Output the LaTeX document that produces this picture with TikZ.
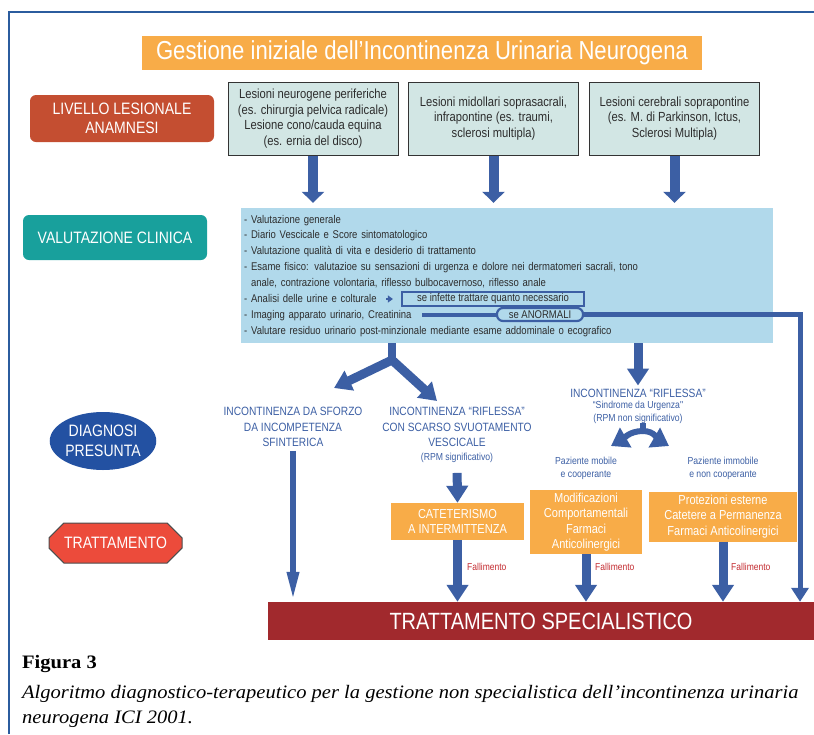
\documentclass[tikz,border=0pt]{standalone}
\usepackage{fontspec}
\setmainfont{Liberation Serif}[FakeStretch=1.08]
\newfontfamily\cnd[FakeStretch=0.85]{Liberation Sans}
\usetikzlibrary{arrows.meta,shapes.geometric,shapes.misc}

\definecolor{framebl}{HTML}{2B5C9E}
\definecolor{arrbl}{HTML}{3C5FA4}
\definecolor{titleor}{HTML}{F8AC48}
\definecolor{brick}{HTML}{C44E31}
\definecolor{valteal}{HTML}{18A09C}
\definecolor{boxgray}{HTML}{D2E6E4}
\definecolor{lightbl}{HTML}{B1D9EB}
\definecolor{diagbl}{HTML}{2351A2}
\definecolor{tratred}{HTML}{EC4B3B}
\definecolor{specred}{HTML}{A1292D}
\definecolor{failred}{HTML}{C32B30}
\definecolor{txtgray}{HTML}{2D2D2D}

\tikzset{
  level/.style   = {shape=rectangle, rounded corners=6pt, text=white, align=center,
                    inner sep=0pt, font=\cnd\fontsize{16.5}{19.5}\selectfont},
  lesion/.style  = {draw=black!80, line width=1pt, fill=boxgray, align=center,
                    text=txtgray, minimum width=170pt, minimum height=73pt,
                    inner sep=0pt, font=\cnd\fontsize{13.2}{15.5}\selectfont},
  diag/.style    = {text=arrbl, align=center, inner sep=0pt,
                    font=\cnd\fontsize{12}{15.3}\selectfont},
  note/.style    = {text=arrbl, align=center, inner sep=0pt,
                    font=\cnd\fontsize{10.2}{13}\selectfont},
  therapy/.style = {fill=titleor, text=white, align=center, inner sep=0pt,
                    font=\cnd\fontsize{13}{15.5}\selectfont},
  fail/.style    = {text=failred, anchor=west, inner sep=0pt,
                    font=\cnd\fontsize{10}{11}\selectfont},
  tag/.style     = {draw=arrbl, line width=2.2pt, fill=lightbl, text=txtgray,
                    inner sep=0pt, font=\cnd\fontsize{11.2}{13}\selectfont},
  bigarr/.style  = {draw=arrbl, line width=10pt, -{Triangle[width=22pt,length=11pt]}},
  midarr/.style  = {draw=arrbl, line width=9pt, -{Triangle[width=21pt,length=17pt]}},
  thinarr/.style = {draw=arrbl, line width=5pt, -{Triangle[width=17pt,length=14pt]}},
  slimarr/.style = {draw=arrbl, line width=6pt, -{Triangle[width=11pt,length=30pt]}},
  forkarr/.style = {draw=arrbl, line width=6pt, -{Triangle[width=22pt,length=17pt]}}
}

\begin{document}
\begin{tikzpicture}[x=1pt,y=-1pt]
\useasboundingbox (0,0) rectangle (814,734);

% cornice
\draw[framebl, line width=2.5pt] (9,734) |- (814,12);

% titolo
\node[fill=titleor, text=white, minimum width=560pt, minimum height=34pt, inner sep=0pt,
      font=\cnd\fontsize{26}{30}\selectfont] (title) at (422,53)
      {Gestione iniziale dell’Incontinenza Urinaria Neurogena};

% colonna sinistra
\node[level, fill=brick, minimum width=184pt, minimum height=47pt] (livello) at (122,118.5)
      {LIVELLO LESIONALE\\ANAMNESI};
\node[level, fill=valteal, minimum width=184pt, minimum height=45pt] (valclin) at (115,237.5)
      {VALUTAZIONE CLINICA};
\node[level, shape=ellipse, fill=diagbl, minimum width=106pt, minimum height=58pt] (diagnosi)
      at (103,441) {DIAGNOSI\\PRESUNTA};
\node[level, shape=chamfered rectangle, rounded corners=0pt, fill=tratred, draw=black!70,
      line width=1pt, chamfered rectangle xsep=9pt, chamfered rectangle ysep=9pt,
      minimum width=133pt, minimum height=40pt] (tratt) at (115.5,543) {TRATTAMENTO};

% lesioni
\node[lesion] (les1) at (313,118.5)
      {Lesioni neurogene periferiche\\(es. chirurgia pelvica radicale)\\
       Lesione cono/cauda equina\\(es. ernia del disco)};
\node[lesion] (les2) at (493.5,118.5)
      {Lesioni midollari soprasacrali,\\infrapontine (es. traumi,\\sclerosi multipla)};
\node[lesion] (les3) at (674.5,118.5)
      {Lesioni cerebrali soprapontine\\(es. M. di Parkinson, Ictus,\\Sclerosi Multipla)};

% valutazione clinica
\node[fill=lightbl, minimum width=532pt, minimum height=135pt, inner sep=0pt] (val)
      at (507,275.5) {};
\node[anchor=base west, text width=530pt, align=left, inner sep=0pt, text=txtgray,
      font=\cnd\fontsize{11.2}{15.9}\selectfont] (valtext) at (244,223)
      {- Valutazione generale\\
       - Diario Vescicale e Score sintomatologico\\
       - Valutazione qualità di vita e desiderio di trattamento\\
       - Esame fisico: valutazioe su sensazioni di urgenza e dolore nei dermatomeri sacrali, tono\\
       \phantom{- }anale, contrazione volontaria, riflesso bulbocavernoso, riflesso anale\\
       - Analisi delle urine e colturale\\
       - Imaging apparato urinario, Creatinina\\
       - Valutare residuo urinario post-minzionale mediante esame addominale o ecografico};
\node[tag, minimum width=182pt, minimum height=14pt] (infette) at (493,299)
      {se infette trattare quanto necessario};
\node[tag, rounded corners=6pt, minimum width=86pt, minimum height=13pt] (anorm) at (540,314.5)
      {se ANORMALI};
\coordinate (colt) at (386,299);
\coordinate (crea) at (422,314.5);
\coordinate (rturn) at (800,314.5);

% diagnosi presunta
\node[diag] (sforzo) at (293,427)
      {INCONTINENZA DA SFORZO\\DA INCOMPETENZA\\SFINTERICA};
\node[diag] (riflA) at (457,427)
      {INCONTINENZA “RIFLESSA”\\CON SCARSO SVUOTAMENTO\\VESCICALE};
\node[note] (rpmA) at (457,458) {(RPM significativo)};
\node[diag] (riflB) at (638,393) {INCONTINENZA “RIFLESSA”};
\node[note, align=center] (urg) at (638,412) {“Sindrome da Urgenza"\\(RPM non significativo)};
\node[note] (mobile) at (586,468.5) {Paziente mobile\\e cooperante};
\node[note] (immob) at (723,468.5) {Paziente immobile\\e non cooperante};
\coordinate (split) at (392,360);
\coordinate (ltip) at (334,388);
\coordinate (rtip) at (437,401);
\coordinate (fork) at (643,431);
\coordinate (lfork) at (611,446);
\coordinate (rfork) at (669,446);

% trattamento
\node[therapy, minimum width=133pt, minimum height=37pt] (cat) at (457.5,521.5)
      {CATETERISMO\\A INTERMITTENZA};
\node[therapy, minimum width=112pt, minimum height=64pt] (modif) at (586,522)
      {Modificazioni\\Comportamentali\\Farmaci\\Anticolinergici};
\node[therapy, minimum width=148pt, minimum height=50pt] (prot) at (723,516.5)
      {Protezioni esterne\\Catetere a Permanenza\\Farmaci Anticolinergici};
\node[fill=specred, text=white, minimum width=546pt, minimum height=38pt, inner sep=0pt,
      font=\cnd\fontsize{23.5}{28}\selectfont] (spec) at (541,621)
      {TRATTAMENTO SPECIALISTICO};
\node[fail] at (467,567) {Fallimento};
\node[fail] at (595,567) {Fallimento};
\node[fail] at (731,567) {Fallimento};

% frecce
\foreach \l in {les1,les2,les3}
  \draw[bigarr, shorten >=5pt] (\l.south) -- (\l.south |- val.north);
\draw[-{Triangle[width=7pt,length=5pt]}, arrbl, line width=2pt, shorten >=8pt] (colt) -- (infette.west);
\draw[arrbl, line width=4pt] (crea) -- (anorm.west);
\draw[thinarr] (anorm.east) -- (rturn) -- (rturn |- spec.north);
\draw[arrbl, line width=8pt] (val.south -| split) -- (split);
\draw[midarr] (split) -- (ltip);
\draw[midarr] (split) -- (rtip);
\draw[midarr, shorten >=3pt] (val.south -| riflB.north) -- (riflB.north);
\draw[arrbl, line width=6pt] (urg.south -| fork) -- (fork);
\draw[forkarr] (fork) to[out=180, in=30] (lfork);
\draw[forkarr] (fork) to[out=0, in=150] (rfork);
\draw[slimarr, shorten <=4pt] (sforzo.south) -- (sforzo.south |- spec.north);
\draw[midarr, shorten <=10pt] (rpmA.south) -- (cat.north);
\draw[midarr] (cat.south) -- (cat.south |- spec.north);
\draw[midarr] (modif.south) -- (modif.south |- spec.north);
\draw[midarr] (prot.south) -- (prot.south |- spec.north);

% didascalia
\node[anchor=base west, inner sep=0pt, font=\fontsize{19}{21}\selectfont\bfseries] (fig)
      at (22,668) {Figura 3};
\node[anchor=base west, inner sep=0pt, font=\fontsize{19}{21}\selectfont\itshape] (cap1)
      at (22,698) {Algoritmo diagnostico-terapeutico per la gestione non specialistica dell’incontinenza urinaria};
\node[anchor=base west, inner sep=0pt, font=\fontsize{19}{21}\selectfont\itshape] (cap2)
      at (22,723) {neurogena ICI 2001.};
\end{tikzpicture}
\end{document}
